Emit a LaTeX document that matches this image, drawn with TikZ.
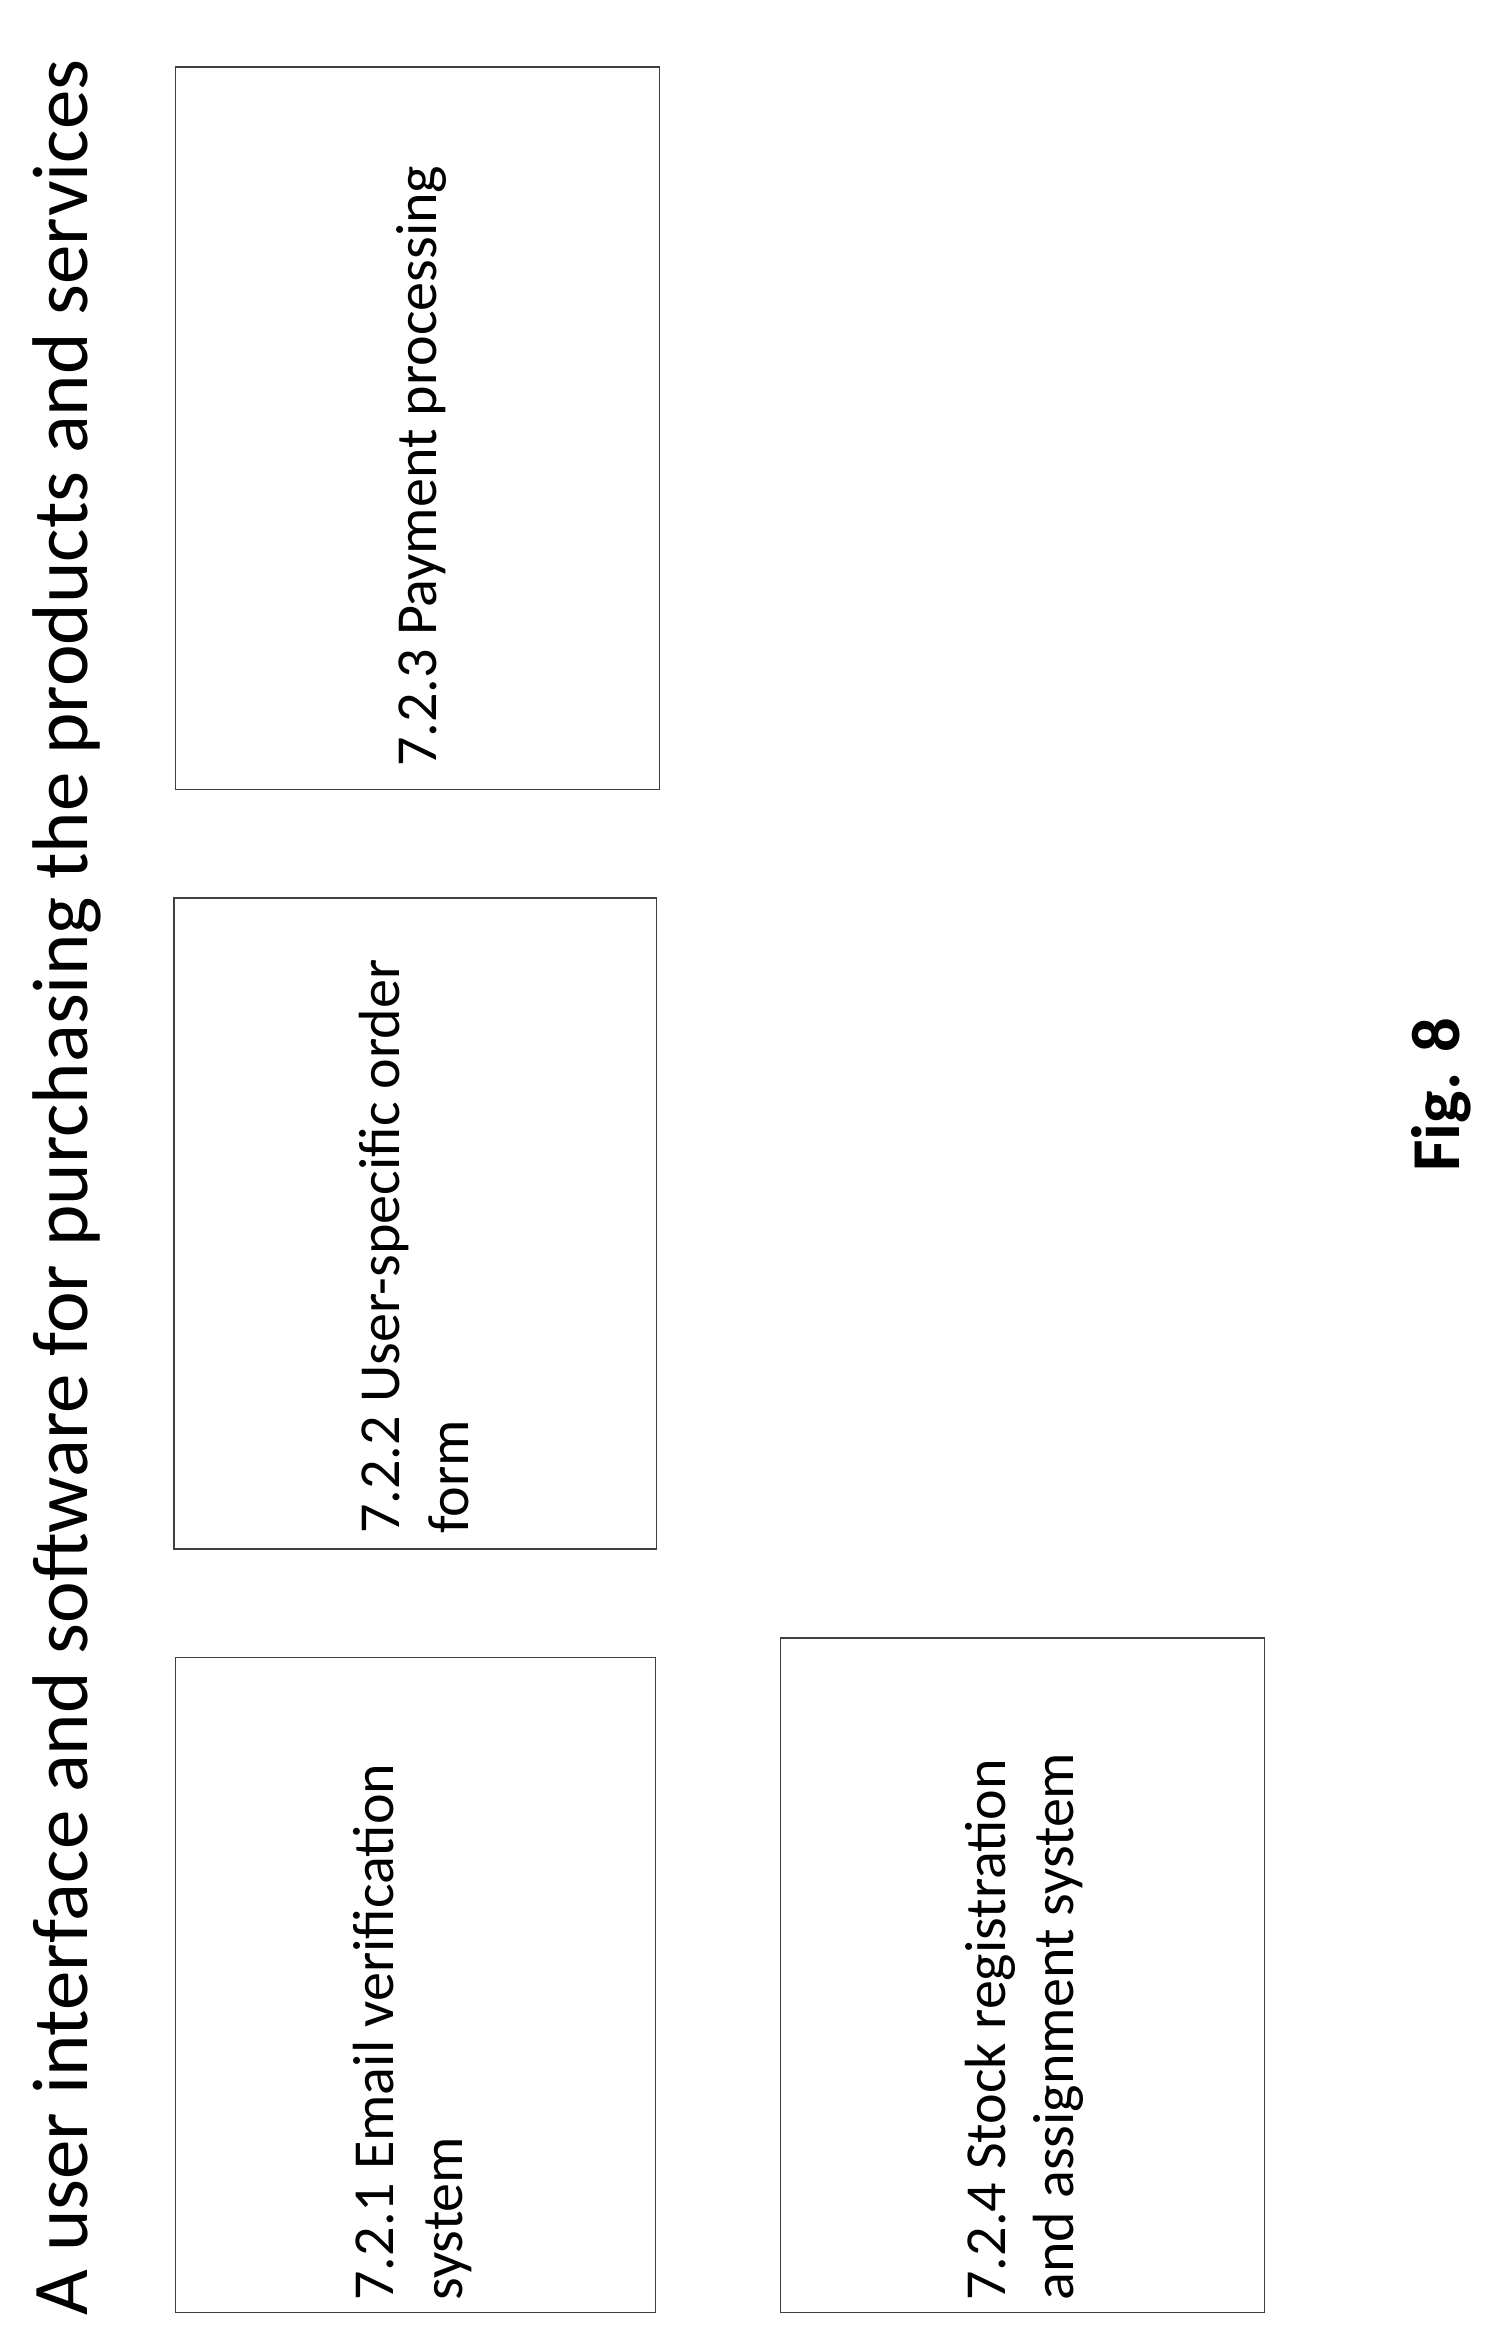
\documentclass[tikz,border=0pt]{standalone}
\usepackage{fontspec}
\setmainfont{Carlito}
\begin{document}
\begin{tikzpicture}[x=1pt,y=-1pt,
  boxs/.style={draw=black!75,line width=1pt},
  lbl/.style={rotate=90,anchor=west,align=left,inner sep=0pt,font=\fontsize{39}{46}\selectfont}]
\useasboundingbox (0,0) rectangle (1000,1570);
\node[rotate=90,anchor=west,inner sep=0pt,font=\fontsize{53}{60}\selectfont] (title) at (45,1555) {A user interface and software for purchasing the products and services};
\draw[boxs] (118,45) rectangle (443,530) coordinate (b3);
\draw[boxs] (117,603) rectangle (441,1040) coordinate (b2);
\draw[boxs] (118,1113) rectangle (440,1553) coordinate (b1);
\draw[boxs] (524,1100) rectangle (849,1553) coordinate (b4);
\node[lbl] (t3) at (283,515) {7.2.3 Payment processing};
\node[lbl] (t2) at (278,1030) {7.2.2 User-specific order\\form};
\node[lbl] (t1) at (277,1545) {7.2.1 Email verification\\system};
\node[lbl] (t4) at (688,1545) {7.2.4 Stock registration\\and assignment system};
\node[rotate=90,inner sep=0pt,font=\bfseries\fontsize{46}{52}\selectfont] (fig) at (968,735) {Fig. 8};
\end{tikzpicture}
\end{document}
